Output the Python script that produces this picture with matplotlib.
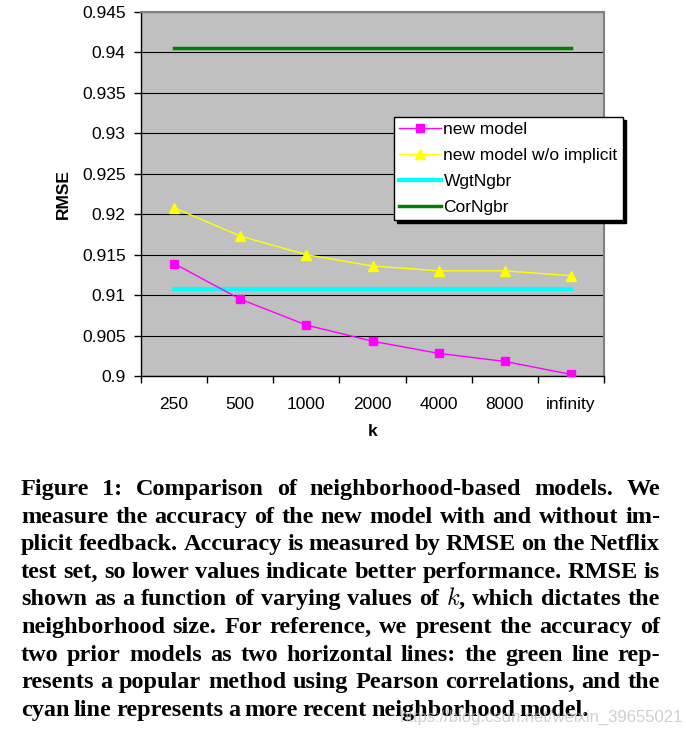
import matplotlib
matplotlib.use('Agg')
import matplotlib.pyplot as plt
from matplotlib.ticker import FixedLocator, FuncFormatter

# values
k_labels = ['250', '500', '1000', '2000', '4000', '8000', 'infinity']
new_model = [0.9139, 0.9095, 0.9063, 0.9043, 0.9028, 0.9018, 0.9002]
new_model_no_implicit = [0.9208, 0.9173, 0.9150, 0.9136, 0.9130, 0.9130, 0.9124]
wgt_ngbr = [0.9107] * 7
cor_ngbr = [0.9406] * 7
y_ticks = [0.9, 0.905, 0.91, 0.915, 0.92, 0.925, 0.93, 0.935, 0.94, 0.945]

caption = [
    "Figure 1:  Comparison of neighborhood-based models.  We",
    "measure the accuracy of the new model with and without im-",
    "plicit feedback. Accuracy is measured by RMSE on the Netflix",
    "test set, so lower values indicate better performance. RMSE is",
    "shown as a function of varying values of $k$, which dictates the",
    "neighborhood size.  For reference, we present the accuracy of",
    "two prior models as two horizontal lines:  the green line rep-",
    "resents a popular method using Pearson correlations, and the",
    "cyan line represents a more recent neighborhood model.",
]

plt.rcParams['font.family'] = 'Liberation Sans'
plt.rcParams['mathtext.fontset'] = 'cm'

W, H = 686, 733
fig = plt.figure(figsize=(W / 100, H / 100), dpi=100)
ax = fig.add_axes([141 / W, 1 - 376 / H, (604 - 141) / W, (376 - 12) / H])
ax.set_facecolor('#c0c0c0')

x = list(range(len(k_labels)))
ax.plot(x, new_model, color='#ff00ff', marker='s', ms=6, lw=1, label='new model', zorder=4)
ax.plot(x, new_model_no_implicit, color='#ffff00', marker='^', ms=7, lw=1,
        label='new model w/o implicit', zorder=4)
ax.plot(x, wgt_ngbr, color='#00ffff', lw=3, label='WgtNgbr', zorder=3)
ax.plot(x, cor_ngbr, color='#008000', lw=2.5, label='CorNgbr', zorder=3)

ax.set_xlim(-0.5, 6.5)
ax.set_ylim(0.9, 0.945)
ax.set_yticks(y_ticks)
ax.yaxis.set_major_formatter(FuncFormatter(lambda v, p: '%g' % round(v, 3)))
ax.yaxis.grid(True, color='black', lw=0.8)
ax.set_axisbelow(True)

ax.set_xticks(x)
ax.set_xticklabels(k_labels)
ax.xaxis.set_minor_locator(FixedLocator([i - 0.5 for i in range(len(k_labels) + 1)]))
ax.tick_params(axis='x', which='major', length=0, pad=15, labelsize=12.5)
ax.tick_params(axis='x', which='minor', length=5, width=1, direction='out')
ax.tick_params(axis='y', length=5, width=1, pad=6, labelsize=12.5)

for s in ['top', 'right']:
    ax.spines[s].set_color('#808080')
    ax.spines[s].set_linewidth(1.5)
for s in ['left', 'bottom']:
    ax.spines[s].set_color('black')
    ax.spines[s].set_linewidth(1)

ax.set_xlabel('k', fontsize=12.5, fontweight='bold', labelpad=9)
ax.set_ylabel('RMSE', fontsize=12.5, fontweight='bold', labelpad=8)

leg = ax.legend(loc='upper left', bbox_to_anchor=(394 / W, 1 - 117 / H),
                bbox_transform=fig.transFigure, fontsize=12.5, fancybox=False,
                shadow={'color': 'black', 'alpha': 1}, framealpha=1,
                edgecolor='black', borderaxespad=0, handlelength=2.4,
                handletextpad=0.15, labelspacing=0.62, borderpad=0.3)
leg.get_frame().set_linewidth(1)

# justified caption in bold serif
left, right = 21 / W, 660 / W
base0, step = 495, 27.6
fig.canvas.draw()
r = fig.canvas.get_renderer()


def wwidth(t):
    bb = t.get_window_extent(renderer=r)
    return bb.width / W


for i, line in enumerate(caption):
    y = 1 - (base0 + i * step) / H
    words = line.split()
    texts = [fig.text(0, y, w, fontsize=17.5, fontweight='bold', family='Liberation Serif',
                      va='baseline', ha='left') for w in words]
    widths = [wwidth(t) for t in texts]
    if i == len(caption) - 1:
        gap = 4.5 / W
    else:
        gap = (right - left - sum(widths)) / (len(words) - 1)
    xp = left
    for t, w in zip(texts, widths):
        t.set_x(xp)
        xp += w + gap

fig.text(683 / W, 1 - 722 / H, 'https://blog.csdn.net/weixin_39655021', fontsize=12,
         color='#bbbbbb', alpha=0.7, ha='right', va='baseline')

fig.savefig('out.png', dpi=100)
